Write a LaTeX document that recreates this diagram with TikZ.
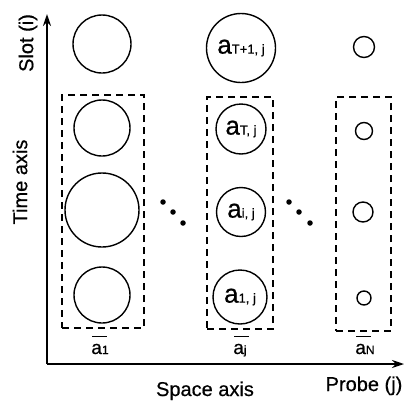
\documentclass[tikz,border=0pt]{standalone}
\usepackage{fontspec}
\setmainfont{Liberation Sans}[FakeBold=0.6]
\usetikzlibrary{arrows.meta}
\newcommand\cellab[1]{{\fontsize{26}{26}\selectfont a}{\fontsize{13}{13}\selectfont #1}}
\newcommand\barlab[1]{{\fontsize{19}{19}\selectfont\rlap{\kern1pt\rule[17pt]{15pt}{1.4pt}}a}{\fontsize{12}{12}\selectfont #1}}
\begin{document}
\begin{tikzpicture}[x=1pt,y=-1pt,
  cell/.style={circle,draw,line width=1.4pt,inner sep=0pt},
  group/.style={draw,dash pattern=on 7pt off 5pt,line width=1.4pt,inner sep=0pt},
  axisline/.style={line width=1.6pt,-{Stealth[length=12pt,width=8pt]}},
  axlabel/.style={font=\fontsize{20}{20}\selectfont,inner sep=0pt},
  barlabel/.style={anchor=base,inner sep=0pt},
  dotmark/.style={circle,fill,inner sep=0pt,minimum size=5.5pt}]
\path[use as bounding box] (0,0) rectangle (407,402);
% axes
\coordinate (O) at (47,364);
\coordinate (Ytop) at (47,14);
\coordinate (Xend) at (404,364);
\draw[axisline] (O) -- (Ytop);
\draw[axisline] (O) -- (Xend);
\node[axlabel,rotate=90] (slot) at (28,43) {Slot (i)};
\node[axlabel,rotate=90] (time) at (20,182) {Time axis};
\node[axlabel,anchor=base] (space) at (205,396) {Space axis};
\node[axlabel,anchor=base] (probe) at (364,391) {Probe (j)};
% groups
\node[group,minimum width=82pt,minimum height=233pt] (g1) at (103,211.5) {};
\node[group,minimum width=66pt,minimum height=232pt] (g2) at (240,213) {};
\node[group,minimum width=55pt,minimum height=234pt] (g3) at (363.5,214) {};
% column 1
\node[cell,minimum size=58pt] (c11) at (102,44) {};
\node[cell,minimum size=56pt] (c12) at (102,128) {};
\node[cell,minimum size=74pt] (c13) at (102,210) {};
\node[cell,minimum size=56pt] (c14) at (102,295) {};
% column j
\node[cell,minimum size=69pt] (c21) at (241,48) {\cellab{T+1, j}};
\node[cell,minimum size=50pt] (c22) at (241,129) {\cellab{T, j}};
\node[cell,minimum size=49pt] (c23) at (241,212) {\cellab{i, j}};
\node[cell,minimum size=54pt] (c24) at (240,297) {\cellab{1, j}};
% column N
\node[cell,minimum size=21pt] (c31) at (364,47) {};
\node[cell,minimum size=17pt] (c32) at (364,131) {};
\node[cell,minimum size=20pt] (c33) at (363,212) {};
\node[cell,minimum size=14pt] (c34) at (364,298) {};
% dots
\node[dotmark] (d1) at (163,202) {};
\node[dotmark] (d2) at (173,212) {};
\node[dotmark] (d3) at (183,223) {};
\node[dotmark] (d4) at (289,202) {};
\node[dotmark] (d5) at (299,212) {};
\node[dotmark] (d6) at (310,223) {};
% bar labels
\node[barlabel] (l1) at (100,354) {\barlab{1}};
\node[barlabel] (l2) at (240,354) {\barlab{j}};
\node[barlabel] (l3) at (365,354) {\barlab{N}};
\end{tikzpicture}
\end{document}
